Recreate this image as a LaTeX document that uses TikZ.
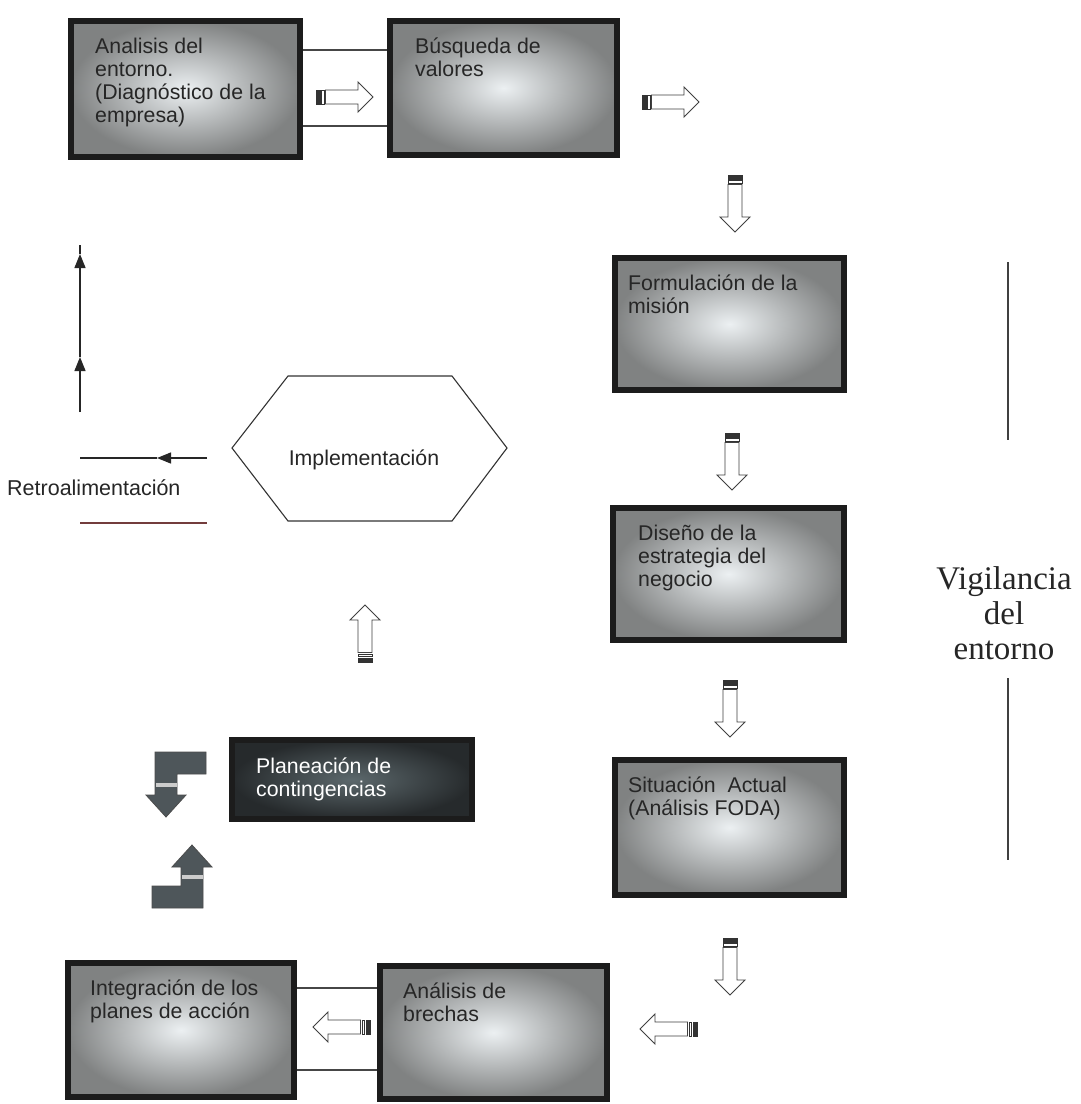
\documentclass[tikz,border=0pt]{standalone}
\usepackage{fontspec}
\setmainfont{Liberation Serif}
\setsansfont{Liberation Sans}
\usetikzlibrary{arrows.meta}

\definecolor{marco}{RGB}{28,28,28}
\definecolor{grisfuera}{RGB}{128,130,130}
\definecolor{grisdentro}{RGB}{236,240,242}
\definecolor{oscurofuera}{RGB}{38,42,44}
\definecolor{oscurodentro}{RGB}{92,104,108}
\definecolor{flechaL}{RGB}{78,86,90}
\definecolor{lineagris}{RGB}{70,70,70}
\definecolor{rojizo}{RGB}{115,60,60}

\tikzset{
  etapa/.style={draw=marco, line width=6pt, inner color=grisdentro, outer color=grisfuera, inner sep=0pt},
  etapaoscura/.style={etapa, inner color=oscurodentro, outer color=oscurofuera},
  rotulo/.style={anchor=north west, inner sep=0pt, align=left, text=black!85,
    font=\sffamily\fontsize{21.3}{22.8}\selectfont},
  enlace/.style={draw=lineagris, line width=1.2pt},
  retro/.style={draw=black!85, line width=1.3pt},
  punta/.style={-{Triangle[length=14pt,width=11pt]}},
  escuadra/.style={draw=black!70, line width=0.8pt, fill=flechaL},
  hueca/.pic={
    \filldraw[black!80, line width=0.8pt] (0,-7) rectangle (4,7);
    \draw[black!80, line width=0.8pt, fill=white] (5.5,-7) rectangle (8,7);
    \draw[black!75, line width=0.9pt, fill=white]
      (9.5,-7) -- (42,-7) -- (42,-15) -- (57,0) -- (42,15) -- (42,7) -- (9.5,7) -- cycle;
  }
}

\begin{document}
\begin{tikzpicture}[x=1pt,y=1pt,yscale=-1]
\useasboundingbox[fill=white] (0,0) rectangle (1081,1104);

% etapas
\node[etapa, minimum width=229pt, minimum height=136pt] (analisis) at (185.5,89) {};
\node[etapa, minimum width=227pt, minimum height=134pt] (valores) at (503.5,88) {};
\node[etapa, minimum width=229pt, minimum height=132pt] (mision) at (729.5,324) {};
\node[etapa, minimum width=231pt, minimum height=132pt] (estrategia) at (728.5,574) {};
\node[etapa, minimum width=229pt, minimum height=135pt] (foda) at (729.5,827.5) {};
\node[etapa, minimum width=227pt, minimum height=133pt] (brechas) at (493.5,1032.5) {};
\node[etapa, minimum width=226pt, minimum height=134pt] (integracion) at (181,1030) {};
\node[etapaoscura, minimum width=240pt, minimum height=79pt] (contingencias) at (352,779.5) {};

\node[rotulo] (analisis-t) at ([shift={(27,20)}]analisis.north west) {Analisis del\\entorno.\\(Diagnóstico de la\\empresa)};
\node[rotulo] (valores-t) at ([shift={(28,20)}]valores.north west) {Búsqueda de\\valores};
\node[rotulo] (mision-t) at ([shift={(16,20)}]mision.north west) {Formulación de la\\misión};
\node[rotulo] (estrategia-t) at ([shift={(28,20)}]estrategia.north west) {Diseño de la\\estrategia del\\negocio};
\node[rotulo] (foda-t) at ([shift={(16,20)}]foda.north west) {Situación~ Actual\\(Análisis FODA)};
\node[rotulo] (brechas-t) at ([shift={(26,20)}]brechas.north west) {Análisis de\\brechas};
\node[rotulo] (integracion-t) at ([shift={(25,20)}]integracion.north west) {Integración de los\\planes de acción};
\node[rotulo, text=white] (contingencias-t) at ([shift={(27,21)}]contingencias.north west) {Planeación de\\contingencias};

% lineas entre cuadros
\draw[enlace] (analisis.east |- 0,50) -- (valores.west |- 0,50);
\draw[enlace] (analisis.east |- 0,126) -- (valores.west |- 0,126);
\draw[enlace] (integracion.east |- 0,988) -- (brechas.west |- 0,988);
\draw[enlace] (integracion.east |- 0,1070) -- (brechas.west |- 0,1070);

% flechas huecas
\pic at (316,97) {hueca};
\pic at (642,102) {hueca};
\pic[rotate=-90] at (735,175) {hueca};
\pic[rotate=-90] at (732,433) {hueca};
\pic[rotate=-90] at (730,680) {hueca};
\pic[rotate=-90] at (730,938) {hueca};
\pic[rotate=180] at (697,1029) {hueca};
\pic[rotate=180] at (370,1027) {hueca};
\pic[rotate=90] at (365,662) {hueca};

% implementacion
\draw[line width=1.1pt, draw=black!80] (232,448) -- (288,376) -- (452,376) -- (507,448) -- (452,521) -- (288,521) -- cycle;
\node[font=\sffamily\fontsize{21.3}{22.8}\selectfont, text=black!85] (implementacion) at (364,460) {Implementación};

% retroalimentacion
\draw[retro, punta] (207,458) -- (157,458);
\draw[retro] (157,458) -- (80,458);
\draw[retro, punta] (80,412) -- (80,357);
\draw[retro, punta] (80,357) -- (80,254);
\draw[retro] (80,254) -- (80,245);
\node[font=\sffamily\fontsize{21.5}{23}\selectfont, anchor=base west, inner sep=0pt, text=black!85] (retro-t) at (7,495) {Retroalimentación};
\draw[line width=1.3pt, rojizo] (80,523) -- (207,523);

% flechas en escuadra
\draw[escuadra] (206,752) -- (155,752) -- (155,795) -- (146,795) -- (166,817) -- (186,795) -- (177,795) -- (177,774) -- (206,774) -- cycle;
\fill[black!20] (155.5,783) rectangle (176.5,787);
\draw[escuadra] (152,908) -- (203,908) -- (203,867) -- (212,867) -- (192,845) -- (172,867) -- (181,867) -- (181,886) -- (152,886) -- cycle;
\fill[black!20] (181.5,875) rectangle (202.5,879);

% vigilancia
\node[font=\fontsize{33}{35}\selectfont, align=center, text=black!85] (vigilancia) at (1004,613) {Vigilancia\\del\\entorno};
\draw[line width=1.2pt, black!75] (1008,262) -- (1008,440);
\draw[line width=1.2pt, black!75] (1008,678) -- (1008,860);
\end{tikzpicture}
\end{document}
